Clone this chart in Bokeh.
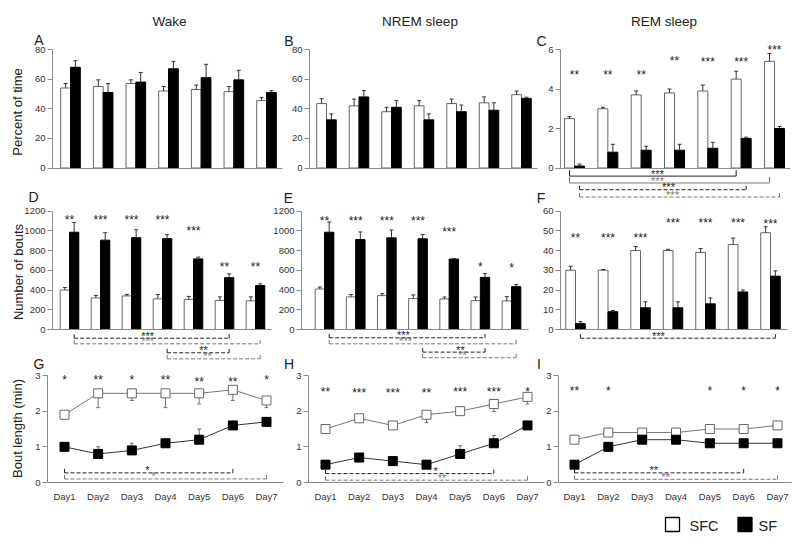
import numpy as np
from bokeh.plotting import figure
from bokeh.models import Range1d, LinearAxis, FixedTicker
from bokeh.core.properties import value
from bokeh.embed import file_html
from bokeh.resources import INLINE

# ---------------- data ----------------
days = ["Day1", "Day2", "Day3", "Day4", "Day5", "Day6", "Day7"]
groups = ["SFC", "SF"]
states = ["Wake", "NREM sleep", "REM sleep"]

# Percent of time
wake_pct_sfc = [54, 55, 57, 52, 53, 51.5, 45.5]
wake_pct_sfc_err = [3, 4.5, 2.5, 3, 3, 3.5, 2]
wake_pct_sf = [68, 51, 58, 67, 61, 59.5, 51]
wake_pct_sf_err = [4.5, 6, 6.5, 5, 9, 6.5, 1.2]
nrem_pct_sfc = [43.5, 42, 38, 42, 43.5, 44, 49.5]
nrem_pct_sfc_err = [3.3, 4.5, 3, 3.5, 3, 4, 2.4]
nrem_pct_sf = [32.5, 48, 41, 32.5, 38, 39, 47]
nrem_pct_sf_err = [4, 4.3, 4.5, 4, 4.5, 5, 0.8]
rem_pct_sfc = [2.5, 3.0, 3.7, 3.8, 3.9, 4.5, 5.4]
rem_pct_sfc_err = [0.1, 0.07, 0.2, 0.2, 0.3, 0.4, 0.4]
rem_pct_sf = [0.1, 0.8, 0.9, 0.9, 1.0, 1.5, 2.0]
rem_pct_sf_err = [0.1, 0.4, 0.2, 0.3, 0.3, 0.06, 0.1]

# Number of bouts
wake_bouts_sfc = [400, 320, 340, 310, 305, 295, 290]
wake_bouts_sfc_err = [25, 25, 15, 45, 30, 35, 40]
wake_bouts_sf = [985, 905, 930, 920, 715, 525, 445]
wake_bouts_sf_err = [100, 75, 80, 40, 18, 38, 18]
nrem_bouts_sfc = [410, 330, 343, 313, 309, 292, 289]
nrem_bouts_sfc_err = [20, 24, 20, 37, 20, 37, 44]
nrem_bouts_sf = [985, 911, 928, 918, 713, 528, 434]
nrem_bouts_sf_err = [104, 77, 80, 43, 6, 37, 20]
rem_bouts_sfc = [30, 30, 40, 40, 39, 43, 49]
rem_bouts_sfc_err = [2, 0.4, 2, 0.6, 2, 3.3, 3]
rem_bouts_sf = [3, 9, 11, 11, 13, 19, 27]
rem_bouts_sf_err = [1, 0.6, 3, 3, 3, 1, 2.7]

# Bout length (min)
wake_len_sfc = [1.9, 2.5, 2.5, 2.5, 2.5, 2.6, 2.3]
wake_len_sfc_err = [0.1, 0.4, 0.2, 0.4, 0.3, 0.3, 0.2]
wake_len_sf = [1.0, 0.8, 0.9, 1.1, 1.2, 1.6, 1.7]
wake_len_sf_err = [0.08, 0.2, 0.2, 0.06, 0.3, 0.05, 0.03]
nrem_len_sfc = [1.5, 1.8, 1.6, 1.9, 2.0, 2.2, 2.4]
nrem_len_sfc_err = [0.1, 0.05, 0.08, 0.22, 0.07, 0.21, 0.2]
nrem_len_sf = [0.5, 0.7, 0.6, 0.5, 0.8, 1.1, 1.6]
nrem_len_sf_err = [0.12, 0.06, 0.06, 0.07, 0.23, 0.22, 0.04]
rem_len_sfc = [1.2, 1.4, 1.4, 1.4, 1.5, 1.5, 1.6]
rem_len_sfc_err = [0.03, 0.03, 0.02, 0.02, 0.03, 0.03, 0.03]
rem_len_sf = [0.5, 1.0, 1.2, 1.2, 1.1, 1.1, 1.1]
rem_len_sf_err = [0.09, 0.07, 0.03, 0.03, 0.05, 0.03, 0.03]

# SFC vs SF significance per day
wake_pct_sig = ["", "", "", "", "", "", ""]
nrem_pct_sig = ["", "", "", "", "", "", ""]
rem_pct_sig = ["**", "**", "**", "**", "***", "***", "***"]
wake_bouts_sig = ["**", "***", "***", "***", "***", "**", "**"]
nrem_bouts_sig = ["**", "***", "***", "***", "***", "*", "*"]
rem_bouts_sig = ["**", "***", "***", "***", "***", "***", "***"]
wake_len_sig = ["*", "**", "*", "**", "**", "**", "*"]
nrem_len_sig = ["**", "***", "***", "**", "***", "***", "*"]
rem_len_sig = ["**", "*", "", "", "*", "*", "*"]

# within-group comparisons between days: (group, day from, day to, label)
wake_pct_cmp = []
nrem_pct_cmp = []
rem_pct_cmp = [("SFC", 1, 6, "***"), ("SFC", 1, 7, "***"), ("SF", 1, 6, "***"), ("SF", 1, 7, "***")]
wake_bouts_cmp = [("SF", 1, 6, "***"), ("SF", 1, 7, "***"), ("SF", 4, 6, "**"), ("SF", 4, 7, "**")]
nrem_bouts_cmp = [("SF", 1, 6, "***"), ("SF", 1, 7, "***"), ("SF", 4, 6, "**"), ("SF", 4, 7, "**")]
rem_bouts_cmp = [("SF", 1, 7, "***")]
wake_len_cmp = [("SF", 1, 6, "*"), ("SF", 1, 7, "*")]
nrem_len_cmp = [("SF", 1, 6, "*"), ("SF", 1, 7, "**")]
rem_len_cmp = [("SF", 1, 6, "**"), ("SF", 1, 7, "**")]

# ---------------- layout / style ----------------
FONT = "Liberation Sans"
W, H = 798, 544
PX0, PX1, PY0, PY1 = 0, W, 0, H

# page-pixel geometry of each panel (layout only)
GEOM = {
    "A": dict(d1=70, d7=266, ax0=52, ax1=282, y0=167.5, ytop=80, ytop_px=49, step=20),
    "B": dict(d1=326, d7=521, ax0=309, ax1=537, y0=167.5, ytop=80, ytop_px=49, step=20),
    "C": dict(d1=574, d7=774, ax0=560, ax1=790, y0=167.5, ytop=6, ytop_px=49, step=2),
    "D": dict(d1=69, d7=255, ax0=52, ax1=271, y0=329, ytop=1200, ytop_px=210.5, step=200),
    "E": dict(d1=324, d7=511, ax0=301, ax1=528, y0=329, ytop=1200, ytop_px=210.5, step=200),
    "F": dict(d1=575, d7=770, ax0=560, ax1=787, y0=329, ytop=60, ytop_px=210.5, step=10),
    "G": dict(d1=64, d7=266, ax0=47, ax1=283, y0=482, ytop=3, ytop_px=375, step=1),
    "H": dict(d1=325, d7=527, ax0=308, ax1=544, y0=482, ytop=3, ytop_px=375, step=1),
    "I": dict(d1=574, d7=777, ax0=558, ax1=791, y0=482, ytop=3, ytop_px=375, step=1),
}

# heights (panel data units) at which the day-wise asterisks are written
SIG_Y = {
    "A": [0] * 7, "B": [0] * 7,
    "C": [4.85, 4.85, 4.85, 5.58, 5.53, 5.53, 6.15],
    "D": [1139, 1139, 1139, 1139, 1031, 666, 659],
    "E": [1133, 1133, 1133, 1133, 1022, 662, 655],
    "F": [48, 48, 48, 55.6, 55.6, 55.6, 54.9],
    "G": [2.95, 2.95, 2.95, 2.95, 2.9, 2.9, 2.95],
    "H": [2.63, 2.6, 2.6, 2.6, 2.63, 2.63, 2.63],
    "I": [2.65] * 7,
}
# bracket levels, label x positions and styles
BRK = {
    "A": ([], [], []), "B": ([], [], []),
    "C": ([-0.41, -0.76, -1.10, -1.47], [3.49, 3.49, 3.82, 3.94], ["sd", "sg", "dd", "dg"]),
    "D": ([-88, -145, -236, -297], [3.52, 3.52, 5.32, 5.45], ["dd", "dg", "dd", "dg"]),
    "E": ([-84, -145, -229, -286], [3.53, 3.6, 5.36, 5.43], ["dd", "dg", "dd", "dg"]),
    "F": ([-4.4], [3.55], ["dd"]),
    "G": ([0.27, 0.10], [3.46, 3.65], ["dd", "dg"]),
    "H": ([0.25, 0.065], [4.27, 4.46], ["dd", "dg"]),
    "I": ([0.27, 0.09], [3.34, 3.69], ["dd", "dg"]),
}
STYLE = {"sd": ("#222222", "solid"), "sg": ("#777777", "solid"),
         "dd": ("#222222", "4 2"), "dg": ("#777777", "4 2")}

p = figure(width=W, height=H, output_backend="svg", toolbar_location=None,
           x_range=Range1d(PX0, PX1), y_range=Range1d(PY1, PY0),
           x_axis_type=None, y_axis_type=None, min_border=0,
           outline_line_color=None)
p.title.visible = False

xr, yr = {}, {}
for k, g in GEOM.items():
    n = len(days)
    sx = (n - 1) / (g["d7"] - g["d1"])
    sy = g["ytop"] / (g["y0"] - g["ytop_px"])
    xr[k] = Range1d(1 - (g["d1"] - PX0) * sx, 1 + (PX1 - g["d1"]) * sx)
    yr[k] = Range1d(-(PY1 - g["y0"]) * sy, (g["y0"] - PY0) * sy)
    g["sx"], g["sy"] = sx, sy
    g["xa"] = 1 + (g["ax0"] - g["d1"]) * sx
    g["xb"] = 1 + (g["ax1"] - g["d1"]) * sx
p.extra_x_ranges = xr
p.extra_y_ranges = yr


def add_axes(k, day_labels):
    g = GEOM[k]
    ticks = list(range(0, int(g["ytop"]) + 1, g["step"]))
    yax = LinearAxis(x_range_name=k, y_range_name=k, fixed_location=g["xa"],
                     bounds=(0, g["ytop"]), ticker=FixedTicker(ticks=ticks))
    yax.axis_line_color = "#8a8a8a"
    yax.major_tick_line_color = "#8a8a8a"
    yax.major_tick_out = 5
    yax.major_tick_in = 0
    yax.minor_tick_line_color = None
    yax.major_label_text_font = FONT
    yax.major_label_text_font_size = "9.5px"
    yax.major_label_text_color = "#333333"
    yax.major_label_standoff = 2
    p.add_layout(yax, "left")

    if day_labels:
        xax = LinearAxis(x_range_name=k, y_range_name=k, fixed_location=0,
                         bounds=(g["xa"], g["xb"]),
                         ticker=FixedTicker(ticks=list(range(1, len(days) + 1))))
        xax.major_label_overrides = {i + 1: d for i, d in enumerate(days)}
        xax.major_tick_line_color = None
        xax.major_tick_out = 0
        xax.major_tick_in = 0
        xax.major_label_standoff = 8
        xax.major_label_text_font = FONT
        xax.major_label_text_font_size = "9.5px"
        xax.major_label_text_color = "#333333"
    else:
        xax = LinearAxis(x_range_name=k, y_range_name=k, fixed_location=0,
                         bounds=(g["xa"], g["xb"]), ticker=FixedTicker(ticks=[]))
        xax.major_tick_line_color = None
        xax.major_label_text_font_size = "0px"
    xax.axis_line_color = "#8a8a8a"
    xax.minor_tick_line_color = None
    p.add_layout(xax, "below")


def add_sig(k, sig):
    x = np.arange(1, len(days) + 1)
    p.text(x=x, y=SIG_Y[k], text=sig, x_range_name=k, y_range_name=k,
           text_font=value(FONT), text_font_size="12px", text_align="center",
           text_baseline="middle", y_offset=3, text_color="#222222")


def add_brackets(k, cmp, offsets):
    g = GEOM[k]
    levels, label_x, styles = BRK[k]
    th = 6 * g["sy"]
    for (grp, d0, d1, lab), lv, lx, st in zip(cmp, levels, label_x, styles):
        color, dash = STYLE[st]
        x0, x1 = d0 + offsets[grp], d1 + offsets[grp]
        p.segment(x0=[x0, x0, x1], y0=[lv, lv, lv], x1=[x1, x0, x1], y1=[lv, lv + th, lv + th],
                  line_color=color, line_dash=dash, line_width=1, x_range_name=k, y_range_name=k)
        p.text(x=[lx], y=[lv], text=[lab], x_range_name=k, y_range_name=k,
               text_font=value(FONT), text_font_size="11px", text_align="center",
               text_baseline="middle", y_offset=-2.5, text_color=color)


def bar_panel(k, sfc, sfc_err, sf, sf_err, sig, cmp):
    x = np.arange(1, len(days) + 1)
    xw, xb = x - 0.15, x + 0.15
    kw = dict(x_range_name=k, y_range_name=k)
    p.vbar(x=xw, top=sfc, bottom=0, width=0.3, fill_color="white", line_color="#666666", line_width=1, **kw)
    p.vbar(x=xb, top=sf, bottom=0, width=0.3, fill_color="black", line_color="black", line_width=1, **kw)
    for xs, v, e in ((xw, sfc, sfc_err), (xb, sf, sf_err)):
        v, e = np.array(v, float), np.array(e, float)
        p.segment(x0=xs, y0=v, x1=xs, y1=v + e, line_color="#333333", line_width=1, **kw)
        p.scatter(x=xs, y=v + e, marker="dash", size=4, line_color="#333333", **kw)
    add_axes(k, False)
    add_sig(k, sig)
    add_brackets(k, cmp, {"SFC": -0.15, "SF": 0.15})


def line_panel(k, sfc, sfc_err, sf, sf_err, sig, cmp):
    x = np.arange(1, len(days) + 1)
    kw = dict(x_range_name=k, y_range_name=k)
    v, e = np.array(sfc, float), np.array(sfc_err, float)
    p.segment(x0=x, y0=v, x1=x, y1=v - e, line_color="#777777", line_width=1, **kw)
    p.scatter(x=x, y=v - e, marker="dash", size=4, line_color="#777777", **kw)
    v2, e2 = np.array(sf, float), np.array(sf_err, float)
    p.segment(x0=x, y0=v2, x1=x, y1=v2 + e2, line_color="#666666", line_width=1, **kw)
    p.scatter(x=x, y=v2 + e2, marker="dash", size=4, line_color="#666666", **kw)
    p.line(x=x, y=v, line_color="#777777", line_width=1, **kw)
    p.line(x=x, y=v2, line_color="#333333", line_width=1, **kw)
    p.scatter(x=x, y=v, marker="square", size=9, fill_color="white", line_color="#666666", **kw)
    p.scatter(x=x, y=v2, marker="square", size=9, fill_color="black", line_color="black", **kw)
    add_axes(k, True)
    add_sig(k, sig)
    add_brackets(k, cmp, {"SFC": 0, "SF": 0})


bar_panel("A", wake_pct_sfc, wake_pct_sfc_err, wake_pct_sf, wake_pct_sf_err, wake_pct_sig, wake_pct_cmp)
bar_panel("B", nrem_pct_sfc, nrem_pct_sfc_err, nrem_pct_sf, nrem_pct_sf_err, nrem_pct_sig, nrem_pct_cmp)
bar_panel("C", rem_pct_sfc, rem_pct_sfc_err, rem_pct_sf, rem_pct_sf_err, rem_pct_sig, rem_pct_cmp)
bar_panel("D", wake_bouts_sfc, wake_bouts_sfc_err, wake_bouts_sf, wake_bouts_sf_err, wake_bouts_sig, wake_bouts_cmp)
bar_panel("E", nrem_bouts_sfc, nrem_bouts_sfc_err, nrem_bouts_sf, nrem_bouts_sf_err, nrem_bouts_sig, nrem_bouts_cmp)
bar_panel("F", rem_bouts_sfc, rem_bouts_sfc_err, rem_bouts_sf, rem_bouts_sf_err, rem_bouts_sig, rem_bouts_cmp)
line_panel("G", wake_len_sfc, wake_len_sfc_err, wake_len_sf, wake_len_sf_err, wake_len_sig, wake_len_cmp)
line_panel("H", nrem_len_sfc, nrem_len_sfc_err, nrem_len_sf, nrem_len_sf_err, nrem_len_sig, nrem_len_cmp)
line_panel("I", rem_len_sfc, rem_len_sfc_err, rem_len_sf, rem_len_sf_err, rem_len_sig, rem_len_cmp)

# column titles, panel letters, axis titles (page pixel coordinates)
p.text(x=[169, 419.5, 663.5], y=[20.5, 20.5, 20.5], text=states, text_font=value(FONT),
       text_font_size="13.5px", text_align="center", text_baseline="middle", text_color="#222222")
p.text(x=[38.5, 288.5, 541, 33, 288, 540.5, 38.5, 288.5, 538.5],
       y=[39, 40, 40, 196, 197.5, 197.5, 363.5, 363.5, 363.5],
       text=list("ABCDEFGHI"), text_font=value(FONT), text_font_size="14px",
       text_align="center", text_baseline="middle", text_color="#222222")
p.text(x=[17, 18, 17], y=[111.5, 271.5, 428],
       text=["Percent of time", "Number of bouts", "Bout length (min)"],
       text_font=value(FONT), text_font_size="13px", angle=np.pi / 2,
       text_align="center", text_baseline="middle", text_color="#222222")

# legend
p.scatter(x=[672, 744.5], y=[524, 524], marker="square", size=14,
          fill_color=["white", "black"], line_color="black", line_width=1.3)
p.text(x=[689, 758], y=[525, 525], text=groups, text_font=value(FONT), text_font_size="14.5px",
       text_align="left", text_baseline="middle", text_color="#222222")

open("out.html", "w").write(file_html(p, INLINE))
